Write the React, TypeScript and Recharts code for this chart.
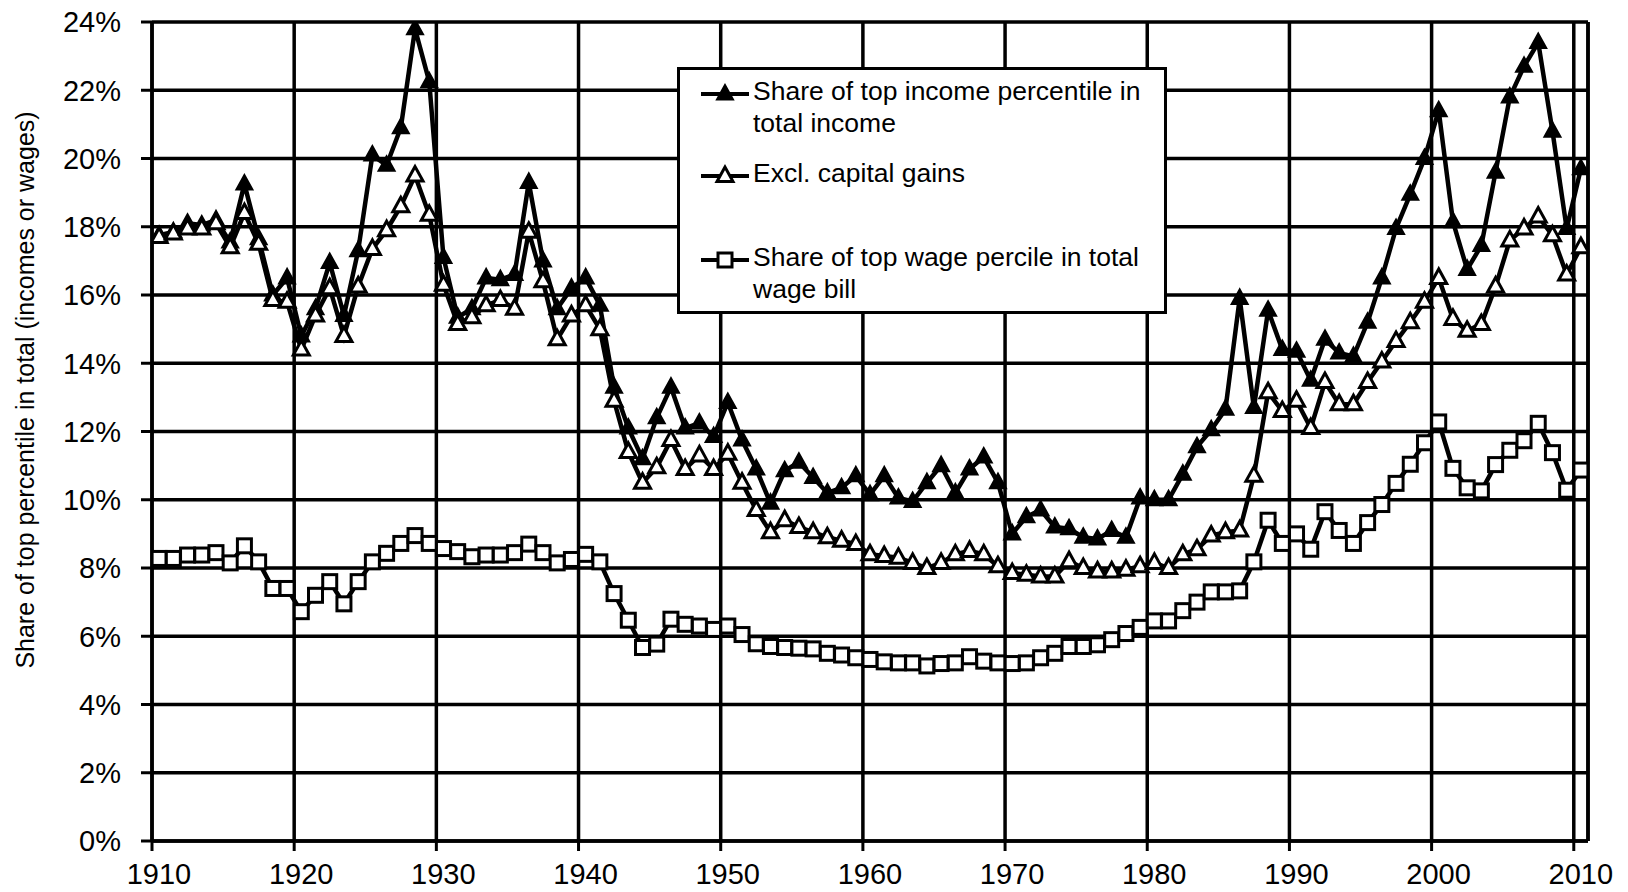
import React from 'react';
import { LineChart, Line, XAxis, YAxis, CartesianGrid, ReferenceLine } from 'recharts';

const FONT = "Arial, 'Liberation Sans', sans-serif";

const YEARS = [
  1910, 1911, 1912, 1913, 1914, 1915, 1916, 1917, 1918, 1919,
  1920, 1921, 1922, 1923, 1924, 1925, 1926, 1927, 1928, 1929,
  1930, 1931, 1932, 1933, 1934, 1935, 1936, 1937, 1938, 1939,
  1940, 1941, 1942, 1943, 1944, 1945, 1946, 1947, 1948, 1949,
  1950, 1951, 1952, 1953, 1954, 1955, 1956, 1957, 1958, 1959,
  1960, 1961, 1962, 1963, 1964, 1965, 1966, 1967, 1968, 1969,
  1970, 1971, 1972, 1973, 1974, 1975, 1976, 1977, 1978, 1979,
  1980, 1981, 1982, 1983, 1984, 1985, 1986, 1987, 1988, 1989,
  1990, 1991, 1992, 1993, 1994, 1995, 1996, 1997, 1998, 1999,
  2000, 2001, 2002, 2003, 2004, 2005, 2006, 2007, 2008, 2009,
  2010,
];

// top 1% share of total income, incl. capital gains (%)
const INCOME_TOTAL = [
  17.75, 17.85, 18.1, 18.05, 18.2, 17.55, 19.25, 17.65, 16.0, 16.5,
  14.8, 15.6, 16.95, 15.4, 17.3, 20.1, 19.8, 20.9, 23.8, 22.25,
  17.1, 15.35, 15.6, 16.5, 16.45, 16.6, 19.3, 17.0, 15.6, 16.2,
  16.5, 15.7, 13.3, 12.1, 11.2, 12.4, 13.3, 12.1, 12.25, 11.85,
  12.85, 11.75, 10.9, 9.9, 10.85, 11.1, 10.65, 10.2, 10.35, 10.7,
  10.15, 10.7, 10.05, 9.95, 10.5, 11.0, 10.2, 10.9, 11.25, 10.5,
  9.0, 9.5, 9.7, 9.2, 9.15, 8.9, 8.85, 9.1, 8.9, 10.05,
  10.0, 10.0, 10.75, 11.55, 12.05, 12.65, 15.9, 12.7, 15.55, 14.4,
  14.35, 13.5, 14.7, 14.3, 14.2, 15.2, 16.5, 17.95, 18.95, 20.0,
  21.4, 18.15, 16.75, 17.45, 19.6, 21.8, 22.7, 23.4, 20.8, 17.95,
  19.7,
];

// excluding capital gains (%)
const INCOME_EXCL_CG = [
  17.7, 17.8, 17.95, 17.95, 18.1, 17.4, 18.4, 17.5, 15.85, 15.8,
  14.4, 15.4, 16.2, 14.8, 16.25, 17.35, 17.9, 18.6, 19.5, 18.35,
  16.3, 15.15, 15.35, 15.7, 15.85, 15.6, 17.85, 16.4, 14.7, 15.4,
  15.7, 15.0, 12.9, 11.4, 10.5, 10.95, 11.75, 10.9, 11.3, 10.9,
  11.35, 10.5, 9.7, 9.05, 9.4, 9.2, 9.05, 8.9, 8.8, 8.7,
  8.4, 8.35, 8.3, 8.15, 8.0, 8.15, 8.4, 8.5, 8.4, 8.05,
  7.85, 7.8, 7.75, 7.75, 8.2, 8.0, 7.9, 7.9, 7.95, 8.05,
  8.15, 8.0, 8.4, 8.55, 8.95, 9.05, 9.1, 10.7, 13.15, 12.6,
  12.9, 12.1, 13.45, 12.8, 12.8, 13.45, 14.05, 14.65, 15.2, 15.8,
  16.5, 15.3, 14.95, 15.15, 16.25, 17.6, 17.95, 18.3, 17.75, 16.6,
  17.4,
];

// top 1% share of total wage bill (%)
const WAGE_SHARE = [
  8.28, 8.28, 8.38, 8.38, 8.45, 8.15, 8.65, 8.18, 7.4, 7.4,
  6.72, 7.2, 7.6, 6.95, 7.6, 8.18, 8.43, 8.72, 8.95, 8.72,
  8.57, 8.48, 8.33, 8.38, 8.38, 8.45, 8.7, 8.45, 8.15, 8.25,
  8.4, 8.18, 7.25, 6.47, 5.67, 5.77, 6.5, 6.35, 6.3, 6.2,
  6.3, 6.05, 5.78, 5.7, 5.67, 5.65, 5.63, 5.5, 5.45, 5.37,
  5.32, 5.25, 5.22, 5.22, 5.13, 5.2, 5.22, 5.4, 5.27, 5.22,
  5.2, 5.22, 5.37, 5.5, 5.7, 5.7, 5.75, 5.9, 6.08, 6.26,
  6.45, 6.45, 6.75, 7.0, 7.3, 7.3, 7.33, 8.18, 9.4, 8.72,
  9.0, 8.55, 9.65, 9.1, 8.72, 9.33, 9.86, 10.48, 11.04, 11.67,
  12.28, 10.92, 10.35, 10.26, 11.03, 11.45, 11.73, 12.24, 11.38, 10.28,
  10.87,
];

const X_TICKS = [1910, 1920, 1930, 1940, 1950, 1960, 1970, 1980, 1990, 2000, 2010];
const Y_TICKS = [0, 2, 4, 6, 8, 10, 12, 14, 16, 18, 20, 22, 24];

const LEGEND_LABELS = [
  ['Share of top income percentile in', 'total income'],
  ['Excl. capital gains'],
  ['Share of top wage percile in total', 'wage bill'],
];

// each year sits in the middle of its slot, like an Excel category axis
const rows = YEARS.map((year, i) => ({
  x: year + 0.5,
  incl: INCOME_TOTAL[i],
  excl: INCOME_EXCL_CG[i],
  wage: WAGE_SHARE[i],
}));

function tri(cx: number, cy: number) {
  return `${cx},${cy - 9} ${cx - 8},${cy + 5.5} ${cx + 8},${cy + 5.5}`;
}

const FilledTri = ({ cx, cy }: { cx: number; cy: number }) => (
  <polygon points={tri(cx, cy)} fill="#000" stroke="#000" strokeWidth={2} />
);
const OpenTri = ({ cx, cy }: { cx: number; cy: number }) => (
  <polygon points={tri(cx, cy)} fill="#fff" stroke="#000" strokeWidth={3} />
);
const OpenSquare = ({ cx, cy }: { cx: number; cy: number }) => (
  <rect x={cx - 7} y={cy - 7} width={14} height={14} fill="#fff" stroke="#000" strokeWidth={3} />
);

const MARKERS = [FilledTri, OpenTri, OpenSquare];

const XTick = ({ x, y, payload }: any) => (
  <text x={x + 7} y={y} dy="0.71em" textAnchor="middle" fontSize={29} fontFamily={FONT} fill="#000">
    {payload.value}
  </text>
);

function LegendBox() {
  const tops = [8, 90, 174];
  return (
    <div
      style={{
        position: 'absolute', left: 677, top: 67, width: 490, height: 247,
        boxSizing: 'border-box', border: '3px solid #000', background: '#fff',
      }}
    >
      {LEGEND_LABELS.map((lines, i) => {
        const M = MARKERS[i];
        return (
          <div key={i} style={{ position: 'absolute', left: 0, top: tops[i] - 3 }}>
            <svg width={80} height={34} style={{ position: 'absolute', left: 18, top: 2 }}>
              <line x1={3} x2={51} y1={17} y2={17} stroke="#000" strokeWidth={4} />
              <M cx={27} cy={17} />
            </svg>
            <div
              style={{
                position: 'absolute', left: 73, top: 0, whiteSpace: 'nowrap',
                fontSize: 26.5, lineHeight: '32px', color: '#000', fontFamily: FONT,
              }}
            >
              {lines.map((l, j) => <div key={j}>{l}</div>)}
            </div>
          </div>
        );
      })}
    </div>
  );
}

export default function App() {
  return (
    <div style={{ position: 'absolute', left: 0, top: 0, width: 1628, height: 892, background: '#fff', fontFamily: FONT }}>
      <LineChart width={1628} height={892} data={rows} margin={{ top: 22, right: 40, bottom: 0, left: 0 }}>
        <CartesianGrid stroke="#000" strokeWidth={3.5} />
        <XAxis
          type="number"
          dataKey="x"
          domain={[1910, 2011]}
          ticks={X_TICKS}
          allowDataOverflow
          height={51}
          tickSize={10}
          tickMargin={12}
          axisLine={{ stroke: '#000', strokeWidth: 3.5 }}
          tickLine={{ stroke: '#000', strokeWidth: 3 }}
          tick={<XTick />}
        />
        <YAxis
          domain={[0, 24]}
          ticks={Y_TICKS}
          width={152}
          allowDataOverflow
          tickSize={11}
          tickMargin={20}
          tickFormatter={(v: number) => `${v}%`}
          axisLine={{ stroke: '#000', strokeWidth: 3.5 }}
          tickLine={{ stroke: '#000', strokeWidth: 3 }}
          tick={{ fontSize: 29, fill: '#000', fontFamily: FONT }}
        />
        <ReferenceLine x={2011} stroke="#000" strokeWidth={3.5} ifOverflow="visible" />
        <Line
          dataKey="incl"
          stroke="#000"
          strokeWidth={4.5}
          isAnimationActive={false}
          dot={(p: any) => <FilledTri key={`a${p.index}`} cx={p.cx} cy={p.cy} />}
        />
        <Line
          dataKey="excl"
          stroke="#000"
          strokeWidth={4.5}
          isAnimationActive={false}
          dot={(p: any) => <OpenTri key={`b${p.index}`} cx={p.cx} cy={p.cy} />}
        />
        <Line
          dataKey="wage"
          stroke="#000"
          strokeWidth={4.5}
          isAnimationActive={false}
          dot={(p: any) => <OpenSquare key={`c${p.index}`} cx={p.cx} cy={p.cy} />}
        />
      </LineChart>
      <LegendBox />
      <div
        style={{
          position: 'absolute', left: 25, top: 390, whiteSpace: 'nowrap',
          transform: 'translate(-50%, -50%) rotate(-90deg)',
          fontSize: 25, color: '#000', fontFamily: FONT,
        }}
      >
        Share of top percentile in total (incomes or wages)
      </div>
    </div>
  );
}
